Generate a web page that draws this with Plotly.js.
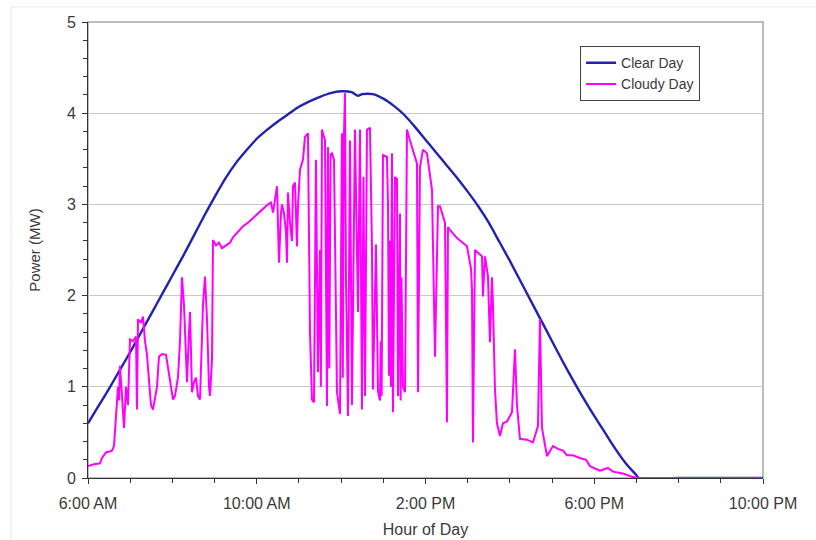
<!DOCTYPE html>
<html>
<head>
<meta charset="utf-8">
<script src="https://cdn.plot.ly/plotly-3.0.1.min.js"></script>
<style>
html,body{margin:0;padding:0;background:#fff;}
#chart{width:816px;height:540px;}
</style>
</head>
<body>
<div id="chart"></div>
<script>
// Hour of day (decimal hours)
const clearHours = [6.0,6.25,6.5,6.75,7.0,7.25,7.5,7.75,8.0,8.25,8.5,8.75,9.0,9.25,9.5,9.75,10.0,10.25,10.5,10.75,11.0,11.25,11.5,11.75,12.0,12.25,12.4,12.5,12.75,13.0,13.25,13.5,13.75,14.0,14.25,14.5,14.75,15.0,15.25,15.5,15.75,16.0,16.25,16.5,16.75,17.0,17.25,17.5,17.75,18.0,18.25,18.5,18.75,19.0,19.05,20.0,21.0,22.0];
const clearPower = [0.60,0.79,0.98,1.18,1.38,1.59,1.80,2.01,2.22,2.43,2.65,2.87,3.08,3.28,3.45,3.59,3.72,3.82,3.91,3.99,4.07,4.13,4.18,4.22,4.24,4.23,4.19,4.21,4.21,4.16,4.08,3.98,3.85,3.71,3.57,3.43,3.29,3.14,2.98,2.80,2.59,2.38,2.16,1.94,1.72,1.50,1.28,1.07,0.87,0.68,0.50,0.32,0.16,0.03,0.0,0.0,0.0,0.0];

const cloudyHours = [6.000,6.142,6.284,6.332,6.427,6.569,6.616,6.664,6.711,6.735,6.758,6.806,6.853,6.901,6.948,6.995,7.067,7.138,7.161,7.185,7.256,7.304,7.351,7.398,7.446,7.493,7.541,7.588,7.635,7.683,7.754,7.849,7.896,7.967,8.015,8.062,8.133,8.181,8.228,8.275,8.299,8.347,8.394,8.418,8.465,8.512,8.560,8.607,8.655,8.726,8.773,8.821,8.868,8.892,8.939,8.963,9.034,9.105,9.176,9.271,9.366,9.437,9.555,9.674,9.792,9.911,10.029,10.148,10.266,10.337,10.385,10.432,10.480,10.503,10.527,10.574,10.598,10.646,10.693,10.717,10.740,10.788,10.835,10.859,10.906,10.954,10.977,11.025,11.096,11.143,11.214,11.262,11.309,11.357,11.404,11.451,11.499,11.520,11.546,11.594,11.617,11.665,11.688,11.720,11.750,11.783,11.831,11.902,11.973,12.020,12.040,12.060,12.091,12.115,12.163,12.210,12.257,12.328,12.400,12.447,12.494,12.530,12.566,12.613,12.684,12.731,12.755,12.826,12.874,12.921,12.940,12.960,12.992,13.087,13.111,13.134,13.160,13.180,13.205,13.229,13.277,13.324,13.348,13.395,13.410,13.430,13.466,13.514,13.561,13.632,13.703,13.798,13.822,13.869,13.940,14.035,14.154,14.225,14.296,14.343,14.462,14.509,14.533,14.580,14.746,14.888,14.983,15.078,15.102,15.125,15.173,15.291,15.339,15.362,15.410,15.481,15.528,15.576,15.599,15.647,15.694,15.765,15.836,15.931,16.050,16.121,16.168,16.239,16.405,16.547,16.666,16.713,16.761,16.879,17.022,17.140,17.259,17.353,17.496,17.662,17.804,17.898,18.135,18.325,18.443,18.680,18.917,19.083,22.000];
const cloudyPower = [0.13,0.15,0.16,0.22,0.28,0.30,0.35,0.75,1.00,0.85,1.23,0.90,0.55,1.00,0.80,1.52,1.50,1.55,0.75,1.74,1.70,1.77,1.50,1.35,1.10,0.80,0.75,0.90,1.00,1.33,1.36,1.35,1.20,1.00,0.86,0.90,1.10,1.50,2.20,1.90,1.60,1.05,1.60,1.82,0.94,1.05,1.10,0.90,0.86,1.90,2.21,1.74,1.00,0.90,1.30,2.61,2.55,2.58,2.52,2.55,2.58,2.64,2.70,2.76,2.80,2.85,2.90,2.96,3.00,3.02,2.91,3.05,3.20,2.80,2.36,2.90,3.00,2.90,2.70,2.36,3.13,2.80,2.60,3.20,3.24,2.54,2.98,3.38,3.49,3.74,3.78,1.60,0.86,0.83,3.49,1.16,2.50,1.00,3.82,3.74,3.71,0.79,3.63,1.20,3.55,3.56,3.49,0.94,0.70,3.78,1.10,3.60,4.22,2.18,0.68,3.70,0.80,3.82,1.82,3.82,0.75,3.30,0.90,3.82,3.84,2.54,0.97,2.56,0.95,0.85,1.50,0.90,3.54,3.52,2.98,1.12,2.60,1.00,3.56,0.72,3.30,3.28,0.90,2.90,0.85,2.20,1.00,0.94,3.82,3.70,3.60,3.45,0.94,3.41,3.60,3.56,3.16,1.33,2.98,2.98,2.80,0.61,2.75,2.72,2.63,2.58,2.54,2.30,2.07,0.39,2.50,2.45,2.43,1.99,2.43,2.21,1.49,2.20,1.90,0.97,0.60,0.46,0.60,0.62,0.72,1.41,0.80,0.43,0.42,0.39,0.57,1.74,0.55,0.24,0.35,0.32,0.30,0.25,0.25,0.22,0.20,0.13,0.08,0.11,0.07,0.05,0.01,0.0,0.0];

const xTickVals = [6,10,14,18,22];
const xTickText = ['6:00 AM','10:00 AM','2:00 PM','6:00 PM','10:00 PM'];
const seriesNames = ['Clear Day','Cloudy Day'];

const traces = [
  {x: clearHours, y: clearPower, name: seriesNames[0], type:'scatter', mode:'lines',
   line:{color:'#2222b0', width:2.4, shape:'spline', smoothing:0.6}},
  {x: cloudyHours, y: cloudyPower, name: seriesNames[1], type:'scatter', mode:'lines',
   line:{color:'#ff00ff', width:2}}
];

const FAM = '"Liberation Sans", Arial, sans-serif';
const TXT = '#3a3a3a';

const layout = {
  width:816, height:540,
  margin:{l:88, r:53, t:22, b:62},
  paper_bgcolor:'#fff', plot_bgcolor:'#fff',
  font:{family:FAM, size:16, color:TXT},
  showlegend:true,
  legend:{x:0.729, y:0.947, xanchor:'left', yanchor:'top',
    bordercolor:'#444', borderwidth:1, bgcolor:'#fff',
    font:{family:FAM, size:14, color:TXT},
    tracegroupgap:0, itemwidth:30},
  xaxis:{range:[6,22], tickvals:xTickVals, ticktext:xTickText,
    showgrid:false, zeroline:false, showline:true, linecolor:'#333', linewidth:1,
    ticks:'outside', ticklen:5, tickcolor:'#333', ticklabelstandoff:6,
    minor:{dtick:1, tick0:6, ticks:'outside', ticklen:4, tickcolor:'#333', showgrid:false},
    tickfont:{family:FAM, size:16, color:TXT},
    title:{text:'Hour of Day', font:{family:FAM, size:16, color:TXT}, standoff:12}},
  yaxis:{range:[0,5], dtick:1, tick0:0,
    showgrid:true, gridcolor:'#c8c8c8', gridwidth:1, zeroline:false,
    showline:true, linecolor:'#333', linewidth:1,
    ticks:'outside', ticklen:5, tickcolor:'#333', ticklabelstandoff:3,
    minor:{dtick:0.2, ticks:'outside', ticklen:4, tickcolor:'#333', showgrid:false},
    tickfont:{family:FAM, size:16, color:TXT},
    title:{text:'Power (MW)', font:{family:FAM, size:15, color:TXT}, standoff:22}},
  shapes:[
    {type:'rect', xref:'paper', yref:'paper', x0:0, x1:1, y0:0, y1:1,
     line:{color:'#a8a8a8', width:1.5}, layer:'below'},
    {type:'rect', xref:'paper', yref:'paper', x0:-0.114, x1:1.2, y0:-0.3, y1:1.033,
     line:{color:'#e8e8e8', width:1}, layer:'below'}
  ]
};

Plotly.newPlot('chart', traces, layout, {displayModeBar:false, staticPlot:true});
</script>
</body>
</html>
